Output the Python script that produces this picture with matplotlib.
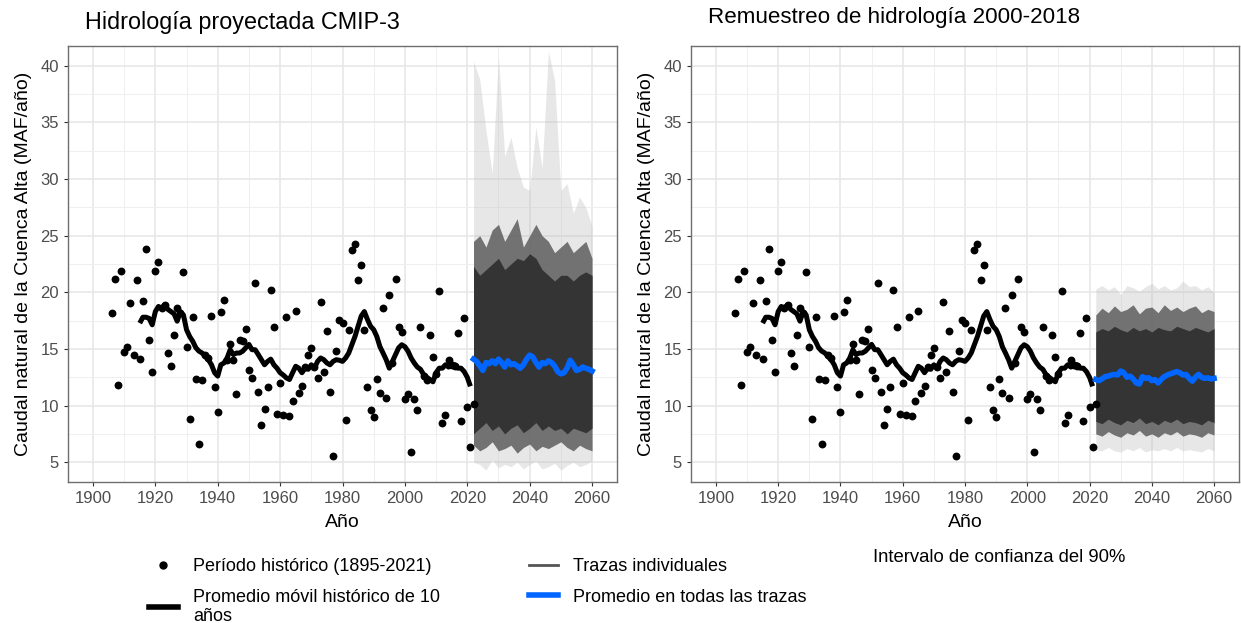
import numpy as np
import matplotlib
matplotlib.use('Agg')
import matplotlib.pyplot as plt
from matplotlib.lines import Line2D
from matplotlib.ticker import MultipleLocator

plt.rcParams['font.family'] = ['Liberation Sans', 'DejaVu Sans']

# ---- historical natural flow (MAF/yr) ----
hist_years = list(range(1906, 2023))
hist_flow = [18.2, 21.2, 11.8, 21.85, 14.76, 15.17, 19.1, 14.47, 21.06, 14.1,
             19.2, 23.85, 15.75, 12.94, 21.9, 22.7, 18.6, 18.9, 14.64, 13.53,
             16.2, 18.65, 18.2, 21.8, 15.14, 8.84, 17.8, 12.33, 6.58, 12.27,
             14.5, 14.2, 17.92, 11.68, 9.42, 18.28, 19.33, 14.0, 15.46, 14.05,
             11.0, 15.8, 15.73, 16.75, 13.18, 12.47, 20.86, 11.18, 8.3, 9.69,
             11.62, 20.21, 16.9, 9.25, 12.0, 9.19, 17.78, 9.07, 10.4, 18.36,
             11.12, 11.7, 13.41, 14.5, 15.08, 13.4, 12.47, 19.16, 12.94, 16.55,
             11.21, 5.52, 14.85, 17.58, 17.3, 8.69, 16.63, 23.73, 24.23, 21.1,
             22.38, 16.63, 11.68, 9.6, 9.0, 12.35, 11.12, 18.63, 10.65, 19.8,
             13.8, 21.15, 16.98, 16.46, 10.54, 11.06, 5.93, 10.54, 9.6, 16.93,
             12.59, 12.3, 16.2, 14.26, 12.8, 20.15, 8.48, 9.13, 14.0, 13.6,
             13.5, 16.4, 8.63, 17.69, 9.86, 6.35, 10.1]

# ---- 10-yr moving average line ----
ma_years = list(range(1915, 2022))
ma_flow = [17.28, 17.8, 17.8, 17.7, 17.13, 18.3, 18.75, 18.6, 18.9, 18.5,
           18.3, 18.1, 17.45, 18.3, 18.0, 16.7, 16.1, 15.67, 15.1, 14.8,
           14.64, 14.35, 14.05, 13.6, 12.9, 12.6, 13.6, 13.76, 14.2, 14.93,
           14.5, 14.64, 14.64, 14.8, 15.1, 15.4, 14.93, 14.93, 14.5, 14.05,
           13.6, 13.9, 14.1, 13.6, 13.3, 12.9, 12.7, 12.44, 12.3, 12.9,
           13.47, 13.3, 12.9, 13.3, 13.2, 13.6, 13.3, 13.9, 14.2, 14.05,
           13.76, 13.6, 13.9, 14.05, 14.0, 13.9, 14.2, 14.64, 15.37, 16.1,
           17.0, 17.9, 18.3, 17.6, 17.0, 16.7, 16.1, 15.2, 14.64, 14.05,
           13.3, 13.9, 14.5, 15.1, 15.37, 15.2, 14.8, 14.2, 13.76, 13.4,
           13.2, 12.74, 12.5, 12.3, 12.1, 12.9, 13.3, 13.3, 13.6, 13.4,
           13.5, 13.6, 13.3, 13.3, 13.0, 12.5, 11.7]

# ---- mean of all traces (blue) ----
fut_years = list(range(2022, 2061))
cmip_mean = [14.1, 13.9, 13.5, 13.1, 13.8, 13.7, 13.95, 13.7, 14.1, 13.8,
             13.4, 13.95, 13.6, 13.7, 13.5, 13.3, 13.6, 14.1, 14.45, 14.3,
             13.8, 13.4, 13.8, 13.7, 13.95, 13.8, 13.5, 13.0, 12.8, 12.9,
             13.3, 14.0, 13.6, 13.1, 13.2, 13.4, 13.3, 13.2, 13.05]
resamp_mean = [12.3, 12.2, 12.35, 12.55, 12.6, 12.7, 12.75, 12.7, 13.05, 12.9,
               12.5, 12.6, 12.35, 12.0, 11.9, 12.55, 12.4, 12.45, 12.2, 12.3,
               12.0, 12.3, 12.55, 12.7, 12.8, 12.9, 13.0, 12.9, 12.7, 12.75,
               12.4, 12.15, 12.5, 12.75, 12.5, 12.4, 12.45, 12.35, 12.4]

# ---- spread of the individual traces (every 2 years) ----
env_years = list(range(2022, 2061, 2))
cmip_max = [40.4, 38.8, 34.3, 30.5, 40.9, 32.0, 33.7, 31.0, 29.3, 29.0,
            34.6, 31.0, 41.3, 38.7, 29.0, 29.6, 27.0, 28.4, 27.5, 25.8]
cmip_hi = [24.5, 25.0, 24.0, 25.5, 26.0, 24.5, 25.5, 26.5, 24.0, 25.0,
           26.0, 25.0, 24.5, 23.5, 24.0, 24.5, 23.5, 24.0, 24.5, 23.0]
cmip_core_hi = [22.3, 21.5, 22.0, 22.5, 23.0, 22.0, 22.5, 23.0, 22.8, 23.4,
                23.0, 22.0, 21.5, 21.0, 21.5, 21.5, 21.0, 21.5, 21.8, 21.5]
cmip_core_lo = [7.5, 8.0, 8.5, 7.8, 8.2, 7.5, 8.0, 8.3, 7.6, 8.0,
                8.5, 7.8, 8.2, 7.8, 8.0, 7.5, 8.0, 7.8, 7.6, 8.0]
cmip_lo = [6.5, 6.0, 6.3, 6.8, 6.0, 6.2, 6.5, 5.8, 6.3, 6.6,
           6.0, 6.4, 6.2, 6.5, 6.8, 6.3, 6.0, 6.5, 6.2, 6.0]
cmip_min = [5.0, 4.8, 4.3, 5.2, 4.5, 4.8, 4.6, 5.0, 4.4, 4.8,
            5.1, 4.4, 4.6, 4.9, 4.3, 4.7, 5.0, 4.6, 4.8, 5.1]

resamp_max = [20.3, 20.6, 20.2, 20.5, 19.8, 20.6, 20.4, 20.1, 20.5, 20.8,
              20.3, 20.6, 20.2, 20.4, 21.0, 20.5, 20.6, 20.2, 20.5, 20.0]
resamp_hi = [18.0, 18.6, 18.2, 18.8, 18.3, 18.5, 18.9, 18.1, 18.6, 18.7,
             18.2, 18.9, 18.4, 18.7, 18.3, 18.6, 18.8, 18.2, 18.5, 18.3]
resamp_core_hi = [16.5, 16.8, 16.6, 17.0, 16.7, 16.5, 16.9, 16.6, 16.8, 16.5,
                  16.9, 16.7, 16.6, 17.0, 16.8, 16.6, 16.9, 16.7, 16.5, 16.8]
resamp_core_lo = [8.6, 8.4, 8.8, 8.5, 8.3, 8.7, 8.5, 8.9, 8.4, 8.6,
                  8.3, 8.7, 8.5, 8.8, 8.4, 8.6, 8.5, 8.3, 8.7, 8.5]
resamp_lo = [7.5, 7.3, 7.7, 7.4, 7.2, 7.6, 7.4, 7.8, 7.3, 7.5,
             7.2, 7.6, 7.4, 7.7, 7.3, 7.5, 7.4, 7.2, 7.6, 7.4]
resamp_min = [6.1, 6.0, 6.3, 6.0, 5.9, 6.2, 6.0, 6.3, 5.9, 6.1,
              6.0, 6.2, 6.0, 6.3, 6.0, 6.1, 6.0, 5.9, 6.2, 6.0]

titles = ['Hidrología proyectada CMIP-3', 'Remuestreo de hidrología 2000-2018']
ylab = 'Caudal natural de la Cuenca Alta (MAF/año)'

W, H = 1241, 623
fig = plt.figure(figsize=(W / 100, H / 100), dpi=100)
ax1 = fig.add_axes([68 / W, 1 - 482 / H, 549 / W, 436 / H])
ax2 = fig.add_axes([691 / W, 1 - 482 / H, 548 / W, 436 / H])

panels = [
    (ax1, cmip_mean, cmip_max, cmip_hi, cmip_core_hi, cmip_core_lo, cmip_lo, cmip_min),
    (ax2, resamp_mean, resamp_max, resamp_hi, resamp_core_hi, resamp_core_lo, resamp_lo, resamp_min),
]

for ax, mean, vmax, hi, chi, clo, lo, vmin in panels:
    # traces envelope
    ax.fill_between(env_years, vmin, vmax, color='#bdbdbd', alpha=0.35, lw=0, zorder=2)
    ax.fill_between(env_years, lo, hi, color='#5e5e5e', alpha=0.85, lw=0, zorder=3)
    ax.fill_between(env_years, clo, chi, color='#343434', lw=0, zorder=4)

    ax.scatter(hist_years, hist_flow, s=32, color='black', zorder=5, linewidths=0)
    ax.plot(ma_years, ma_flow, color='black', lw=3.6, zorder=6, solid_capstyle='butt')
    ax.plot(fut_years, mean, color='#0066ff', lw=4, zorder=7)

    ax.set_xlim(1892, 2068)
    ax.set_ylim(3.25, 41.75)
    ax.xaxis.set_major_locator(MultipleLocator(20))
    ax.xaxis.set_minor_locator(MultipleLocator(10))
    ax.yaxis.set_major_locator(MultipleLocator(5))
    ax.yaxis.set_minor_locator(MultipleLocator(2.5))
    ax.grid(which='major', color='#e6e6e6', lw=1.1, zorder=0)
    ax.grid(which='minor', color='#efefef', lw=0.7, zorder=0)
    ax.set_axisbelow(True)
    ax.tick_params(which='major', length=3, color='#333333', labelcolor='#4d4d4d',
                   labelsize=12)
    ax.tick_params(which='minor', length=0)
    for sp in ax.spines.values():
        sp.set_color('#6e6e6e')
        sp.set_linewidth(1.0)
    ax.set_xlabel('Año', fontsize=14, labelpad=6)
    ax.set_ylabel(ylab, fontsize=14, labelpad=6)

fig.text(85 / W, 1 - 22 / H, titles[0], fontsize=16.8, va='center', ha='left')
fig.text(708 / W, 1 - 18 / H, titles[1], fontsize=16.1, va='center', ha='left')

handles = [
    Line2D([], [], marker='o', color='black', ls='none', markersize=5),
    Line2D([], [], color='black', lw=4),
    Line2D([], [], color='#555555', lw=2),
    Line2D([], [], color='#0066ff', lw=4),
]
labels = ['Período histórico (1895-2021)', 'Promedio móvil histórico de 10\naños',
          'Trazas individuales', 'Promedio en todas las trazas']
fig.legend(handles, labels, ncol=2, loc='upper left', bbox_to_anchor=(149 / W, 1 - 558 / H),
           frameon=False, fontsize=13, handlelength=1.6, handletextpad=0.85,
           columnspacing=4.9, labelspacing=0.75, borderpad=0, borderaxespad=0)
fig.text(873 / W, 1 - 558 / H, 'Intervalo de confianza del 90%', fontsize=13.3,
         va='center', ha='left')

fig.savefig('out.png', dpi=100)
